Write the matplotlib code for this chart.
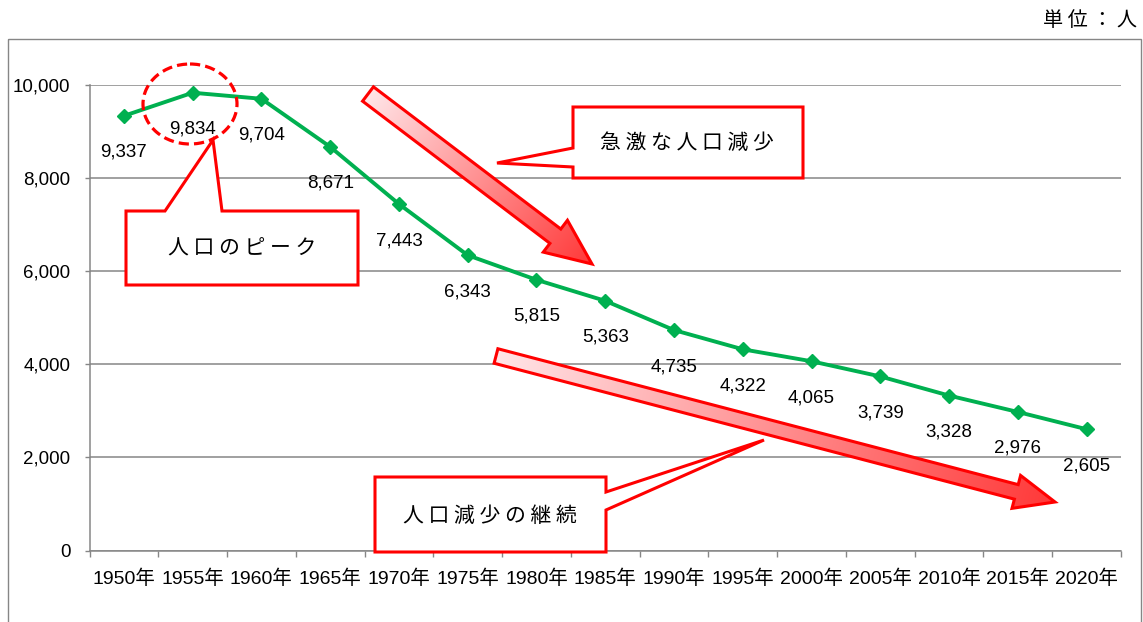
import numpy as np
import matplotlib
matplotlib.use('Agg')
import matplotlib.pyplot as plt
from matplotlib.patches import Polygon, Ellipse, Rectangle

plt.rcParams['font.family'] = ['Liberation Sans', 'Noto Sans CJK JP', 'DejaVu Sans']

# population by census year
years = [1950, 1955, 1960, 1965, 1970, 1975, 1980, 1985,
         1990, 1995, 2000, 2005, 2010, 2015, 2020]
population = [9337, 9834, 9704, 8671, 7443, 6343, 5815, 5363,
              4735, 4322, 4065, 3739, 3328, 2976, 2605]
year_labels = [str(y) + '年' for y in years]
y_ticks = [0, 2000, 4000, 6000, 8000, 10000]

# annotation texts
unit_text = '単 位 ： 人'
peak_text = '人 口 の ピ ー ク'
drop_text = '急 激 な 人 口 減 少'
cont_text = '人 口 減 少 の 継 続'

W, H = 1143, 622
GREEN = '#00B050'
GRAY = '#868686'
RED = '#FF0000'

fig = plt.figure(figsize=(W / 100, H / 100), dpi=100)

# main chart area
ax = fig.add_axes([89.5 / W, 1 - 550.5 / H, (1121 - 89.5) / W, (550.5 - 85) / H])
x = np.arange(len(years))
ax.plot(x, population, color=GREEN, lw=2.8, marker='D', markersize=7,
        markerfacecolor=GREEN, markeredgecolor=GREEN, zorder=3, clip_on=False)
for xi, v in zip(x, population):
    ax.annotate(f'{v:,}', (xi, v), xytext=(0, -29.5), textcoords='offset points',
                ha='center', va='baseline', fontsize=13.5)

ax.set_xlim(-0.5, len(years) - 0.5)
ax.set_ylim(0, 10000)
ax.set_yticks(y_ticks)
ax.set_yticklabels([f'{t:,}' for t in y_ticks], fontsize=13.5)
ax.set_xticks(x)
ax.set_xticklabels(year_labels, fontsize=14)
ax.set_xticks(np.arange(-0.5, len(years)), minor=True)
ax.tick_params(axis='x', which='major', length=0, pad=14)
ax.tick_params(axis='x', which='minor', length=4.5, color=GRAY, width=1)
ax.tick_params(axis='y', length=3.6, color=GRAY, width=1, pad=10)
ax.grid(axis='y', color=GRAY, lw=1.1)
ax.set_axisbelow(True)
for s in ['top', 'right']:
    ax.spines[s].set_visible(False)
for s in ['left', 'bottom']:
    ax.spines[s].set_color(GRAY)
    ax.spines[s].set_linewidth(1.1)

# overlay in picture pixels for the callouts and arrows
ov = fig.add_axes([0, 0, 1, 1], zorder=5)
ov.axis('off')
ov.patch.set_alpha(0)

ov.add_patch(Rectangle((8, 39), 1133, 700, fill=False, ec=GRAY, lw=1, clip_on=False))


def block_arrow(tail, tip, sw, hw, hl):
    tail = np.array(tail, float)
    tip = np.array(tip, float)
    d = tip - tail
    L = np.hypot(*d)
    u = d / L
    n = np.array([-u[1], u[0]])
    base = tip - u * hl
    pts = np.array([tail + n * sw / 2, base + n * sw / 2, base + n * hw / 2, tip,
                    base - n * hw / 2, base - n * sw / 2, tail - n * sw / 2])
    x0, y0 = pts.min(0)
    x1, y1 = pts.max(0)
    X, Y = np.meshgrid(np.linspace(x0, x1, 300), np.linspace(y0, y1, 300))
    t = np.clip(((X - tail[0]) * u[0] + (Y - tail[1]) * u[1]) / L, 0, 1)
    c0 = np.array([1.0, 0.90, 0.91])
    c1 = np.array([1.0, 0.22, 0.22])
    rgb = c0 + (c1 - c0) * t[..., None]
    im = ov.imshow(rgb, extent=(x0, x1, y1, y0), origin='upper',
                   interpolation='bilinear', aspect='auto', zorder=3)
    p = Polygon(pts, closed=True, fc='none', ec=RED, lw=2.2, joinstyle='miter', zorder=4)
    ov.add_patch(p)
    im.set_clip_path(p)


def callout(pts, text, center):
    ov.add_patch(Polygon(pts, closed=True, fc='white', ec=RED, lw=2.2,
                         joinstyle='miter', zorder=4))
    ov.text(center[0], center[1], text, ha='center', va='center', fontsize=15,
            family=['Noto Sans CJK JP'], zorder=6)


block_arrow((368, 94), (592, 264), 18, 40, 46)
block_arrow((496, 356), (1055, 502), 15, 34, 40)

# peak marker
ov.add_patch(Ellipse((190, 104), 94, 80, fill=False, ec=RED, lw=2.3,
                     linestyle=(0, (3.2, 1.6)), zorder=4))

callout([(126, 211), (165, 211), (213, 140), (222, 211), (358, 211), (358, 285), (126, 285)],
        peak_text, (242, 249))
callout([(573, 107), (803, 107), (803, 178), (573, 178), (573, 167), (497, 163), (573, 148)],
        drop_text, (687, 143))
callout([(375, 477), (606, 477), (606, 492), (764, 440), (606, 510), (606, 552), (375, 552)],
        cont_text, (490, 516))

ov.text(1137, 21, unit_text, ha='right', va='center', fontsize=14.5,
        family=['Noto Sans CJK JP'])

ov.set_xlim(0, W)
ov.set_ylim(H, 0)

fig.savefig('out.png', dpi=100)
